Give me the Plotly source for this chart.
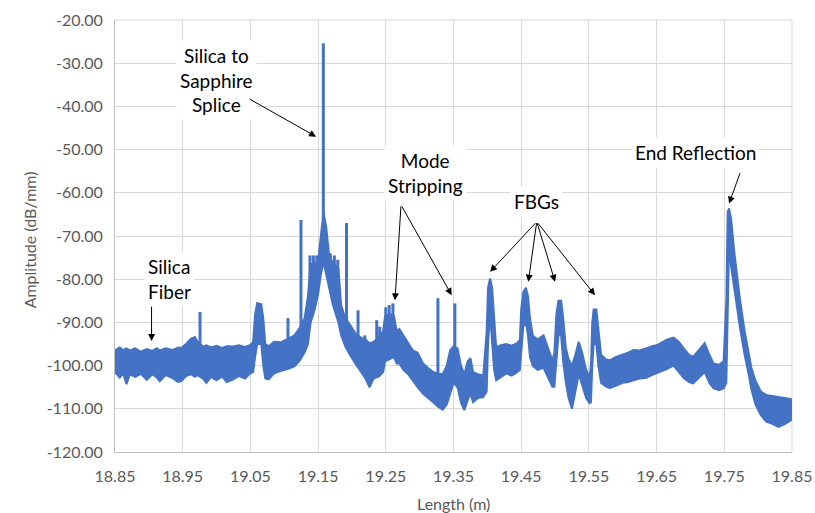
import plotly.graph_objects as go

# OFDR backscatter trace: noise band read as upper / lower envelope (dB/mm)
env_x = [18.850, 18.857, 18.862, 18.867, 18.872, 18.880, 18.888, 18.897, 18.905, 18.912,
         18.916, 18.925, 18.935, 18.943, 18.948, 18.955, 18.962, 18.968, 18.972, 18.980,
         18.985, 18.992, 19.000, 19.008, 19.015, 19.025, 19.033, 19.042, 19.050, 19.054,
         19.057, 19.060, 19.066, 19.069, 19.072, 19.077, 19.085, 19.095, 19.105, 19.115,
         19.122, 19.130, 19.135, 19.139, 19.145, 19.150, 19.154, 19.158, 19.162, 19.166,
         19.172, 19.180, 19.184, 19.190, 19.197, 19.205, 19.213, 19.220, 19.226, 19.232,
         19.240, 19.246, 19.249, 19.256, 19.262, 19.266, 19.270, 19.276, 19.283, 19.290,
         19.297, 19.305, 19.312, 19.320, 19.327, 19.334, 19.340, 19.345, 19.350, 19.356,
         19.361, 19.366, 19.371, 19.375, 19.379, 19.386, 19.394, 19.399, 19.401, 19.404,
         19.407, 19.410, 19.413, 19.420, 19.428, 19.436, 19.444, 19.448, 19.450, 19.453,
         19.457, 19.460, 19.463, 19.467, 19.474, 19.483, 19.490, 19.496, 19.499, 19.502,
         19.505, 19.509, 19.512, 19.516, 19.520, 19.525, 19.530, 19.535, 19.540, 19.546,
         19.551, 19.553, 19.555, 19.557, 19.561, 19.564, 19.568, 19.575, 19.581, 19.590,
         19.600, 19.608, 19.616, 19.625, 19.635, 19.643, 19.650, 19.658, 19.665, 19.675,
         19.683, 19.690, 19.698, 19.704, 19.712, 19.721, 19.728, 19.734, 19.742, 19.749,
         19.753, 19.755, 19.757, 19.760, 19.765, 19.773, 19.780, 19.786, 19.790, 19.796,
         19.804, 19.812, 19.820, 19.830, 19.840, 19.850]
env_hi = [-96.5, -95.8, -96.4, -96.0, -96.5, -96.0, -96.8, -96.2, -96.6, -96.0,
          -96.5, -96.0, -96.4, -95.8, -95.9, -95.0, -93.8, -93.4, -94.5, -95.6,
          -95.3, -95.8, -95.4, -95.9, -95.5, -95.6, -95.3, -95.7, -95.2, -94.5,
          -88.0, -85.5, -85.8, -89.0, -95.0, -95.5, -94.5, -94.6, -93.8, -93.0,
          -91.5, -89.0, -84.0, -76.5, -76.5, -76.0, -70.0, -64.5, -68.0, -74.0,
          -76.5, -77.5, -86.0, -89.0, -90.5, -92.5, -93.5, -94.0, -94.8, -94.5,
          -93.5, -92.0, -88.5, -88.0, -88.5, -92.0, -91.5, -93.0, -95.0, -96.5,
          -97.0, -99.5, -100.5, -101.5, -101.8, -102.0, -100.0, -96.5, -95.5, -96.0,
          -100.0, -102.0, -99.0, -98.3, -101.5, -102.0, -102.3, -92.0, -82.0, -79.8,
          -82.0, -90.0, -95.7, -95.3, -95.0, -95.4, -94.8, -94.0, -87.0, -83.0,
          -82.0, -84.0, -89.0, -93.0, -94.0, -93.0, -96.0, -98.8, -97.0, -88.0,
          -85.0, -85.0, -89.0, -96.0, -98.5, -100.0, -97.5, -94.5, -97.0, -101.0,
          -102.6, -100.0, -90.0, -87.0, -87.0, -92.0, -97.5, -98.5, -98.8, -98.0,
          -97.5, -97.0, -96.4, -96.5, -96.0, -95.5, -95.3, -94.5, -94.0, -93.5,
          -94.5, -96.0, -97.5, -98.0, -96.5, -94.8, -97.5, -99.5, -99.8, -99.0,
          -85.0, -64.5, -63.6, -66.0, -74.0, -84.5, -92.0, -97.5, -100.5, -103.5,
          -106.0, -106.8, -107.0, -107.2, -107.5, -107.8]
env_lo = [-101.5, -102.8, -101.8, -104.3, -102.0, -102.6, -101.9, -103.3, -102.0, -102.8,
          -103.6, -102.2, -102.9, -103.8, -103.6, -102.4, -102.0, -102.6, -102.2, -103.0,
          -104.0, -102.6, -103.4, -102.5, -103.8, -103.2, -102.4, -103.0, -101.8, -101.5,
          -98.0, -95.0, -95.0, -100.0, -103.0, -103.2, -101.8, -101.2, -100.8, -100.2,
          -99.0, -97.0, -95.0, -90.0, -87.0, -83.5, -79.0, -76.0, -79.0, -82.0,
          -86.0, -90.0, -93.0, -95.5, -97.5, -99.5, -101.5, -103.0, -105.0, -103.0,
          -102.5, -101.5, -99.0, -98.5, -98.0, -99.5, -99.5, -101.0, -102.0, -103.5,
          -105.0, -106.5, -107.5, -108.5, -109.5, -110.2, -109.0, -106.5, -104.0, -105.0,
          -108.5, -110.3, -108.0, -106.5, -108.5, -107.5, -107.3, -106.0, -95.0, -88.0,
          -94.0, -101.0, -103.4, -102.6, -101.8, -102.3, -101.5, -101.0, -97.0, -91.0,
          -90.0, -93.0, -98.0, -100.0, -101.0, -100.5, -103.0, -104.9, -104.9, -99.0,
          -93.0, -93.0, -99.0, -104.0, -107.5, -110.0, -106.0, -102.0, -104.5, -107.5,
          -108.7, -108.5, -100.0, -95.0, -95.0, -100.0, -104.0, -104.8, -105.2, -104.6,
          -104.0, -103.8, -103.4, -103.0, -102.8, -102.2, -101.8, -101.2, -100.8, -100.0,
          -101.5, -102.9, -103.8, -104.1, -103.0, -101.5, -104.0, -105.2, -105.7, -105.3,
          -104.0, -90.0, -72.0, -77.0, -82.0, -91.0, -97.5, -102.0, -105.5, -109.0,
          -111.5, -113.0, -113.4, -114.2, -113.5, -112.5]
assert len(env_x) == len(env_hi) == len(env_lo)

# Narrow reflection spikes rising out of the band
spike_x = [18.9756, 19.1055, 19.1247, 19.138, 19.143, 19.148, 19.1577, 19.168,
           19.174, 19.179, 19.192, 19.209, 19.219, 19.2366, 19.241, 19.250,
           19.255, 19.2605, 19.327, 19.352]
spike_top = [-87.6, -89.0, -66.3, -74.5, -74.5, -74.5, -25.4, -74.0,
             -74.5, -75.5, -67.0, -87.2, -93.0, -89.5, -91.0, -86.5,
             -86.0, -85.6, -84.4, -85.6]
spike_base = [-95.0, -95.0, -92.0, -85.0, -85.0, -82.0, -66.0, -80.0,
              -84.0, -86.0, -92.0, -96.0, -98.0, -97.0, -97.0, -95.0,
              -95.0, -95.0, -102.0, -96.0]

x_ticks = [18.85, 18.95, 19.05, 19.15, 19.25, 19.35, 19.45, 19.55, 19.65, 19.75, 19.85]
y_ticks = [-20, -30, -40, -50, -60, -70, -80, -90, -100, -110, -120]

BLUE = "#4472C4"
FONT = "Lato"
AXIS_GREY = "#595959"

fig = go.Figure()

fig.add_trace(go.Scatter(
    x=env_x + env_x[::-1],
    y=env_hi + env_lo[::-1],
    fill="toself", fillcolor=BLUE, mode="lines",
    line=dict(color=BLUE, width=2), hoverinfo="skip", showlegend=False,
))

sx, sy = [], []
for x, top, base in zip(spike_x, spike_top, spike_base):
    sx += [x, x, None]
    sy += [base, top, None]
fig.add_trace(go.Scatter(x=sx, y=sy, mode="lines",
                         line=dict(color=BLUE, width=3), showlegend=False))

# Labels
labels = [
    ("Silica to<br>Sapphire<br>Splice", 19.000, -34.0, "center"),
    ("Mode<br>Stripping", 19.3086, -55.4, "center"),
    ("FBGs", 19.473, -62.0, "center"),
    ("End Reflection", 19.708, -50.6, "center"),
    ("Silica<br>Fiber", 18.893, -80.0, "left"),
]
for text, x, y, align in labels:
    fig.add_annotation(x=x, y=y, text=text, showarrow=False, align=align,
                       xanchor="left" if align == "left" else "center",
                       yanchor="middle", bgcolor="white", borderpad=3,
                       font=dict(family=FONT, size=19, color="black"))

# Arrows: (tail x, tail y, head x, head y)
arrows = [
    (19.0465, -38.1, 19.147, -47.0),
    (19.2725, -62.8, 19.2636, -84.9),
    (19.2725, -62.8, 19.3473, -83.7),
    (19.473, -66.7, 19.404, -78.3),
    (19.473, -66.7, 19.4605, -80.6),
    (19.473, -66.7, 19.500, -80.6),
    (19.473, -66.7, 19.559, -83.7),
    (19.774, -55.1, 19.757, -62.5),
    (18.904, -86.0, 18.904, -94.3),
]
for ax, ay, x, y in arrows:
    fig.add_annotation(x=x, y=y, ax=ax, ay=ay, axref="x", ayref="y",
                       xref="x", yref="y", text="", showarrow=True,
                       arrowhead=2, arrowsize=1.4, arrowwidth=1, arrowcolor="black")

# Axis titles
fig.add_annotation(text="Length (m)", xref="paper", yref="paper", x=0.5, y=-0.119,
                   xanchor="center", yanchor="middle", showarrow=False,
                   font=dict(family=FONT, size=16, color=AXIS_GREY))
fig.add_annotation(text="Amplitude (dB/mm)", xref="paper", yref="paper", x=-0.127, y=0.49,
                   xanchor="center", yanchor="middle", textangle=-90, showarrow=False,
                   font=dict(family=FONT, size=16, color=AXIS_GREY))

fig.update_xaxes(
    range=[18.85, 19.85], tickvals=x_ticks, ticktext=[f"{v:.2f}" for v in x_ticks],
    showgrid=True, gridcolor="#d9d9d9", gridwidth=1,
    showline=True, linecolor="#bfbfbf", linewidth=1, zeroline=False, automargin=False,
    ticks="", ticklabelstandoff=10, tickfont=dict(family=FONT, size=16, color=AXIS_GREY),
)
fig.update_yaxes(
    range=[-120, -20], tickvals=y_ticks, ticktext=[f"{v:.2f}" for v in y_ticks],
    showgrid=True, gridcolor="#d9d9d9", gridwidth=1,
    showline=True, linecolor="#bfbfbf", linewidth=1, zeroline=False, automargin=False,
    ticks="", ticklabelstandoff=8, tickfont=dict(family=FONT, size=16, color=AXIS_GREY),
)

# top and right frame lines of the plot area
fig.add_shape(type="line", xref="paper", yref="paper", x0=0, x1=1, y0=1, y1=1,
              line=dict(color="#d9d9d9", width=1), layer="below")
fig.add_shape(type="line", xref="paper", yref="paper", x0=1, x1=1, y0=0, y1=1,
              line=dict(color="#d9d9d9", width=1), layer="below")

fig.update_layout(
    width=815, height=513,
    margin=dict(l=115, r=23, t=20, b=61),
    paper_bgcolor="white", plot_bgcolor="white",
    showlegend=False,
)

fig.write_html("out.html")
